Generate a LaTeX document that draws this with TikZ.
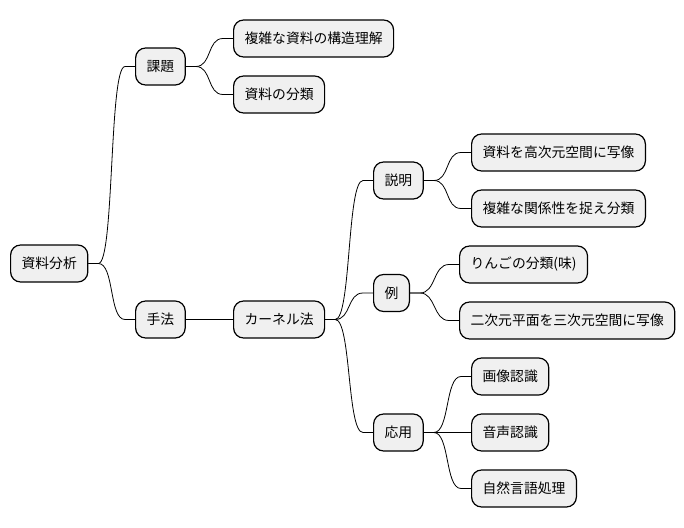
\documentclass[tikz,border=0pt]{standalone}
\usepackage{fontspec}
\setmainfont{Noto Sans CJK JP}
\usetikzlibrary{calc}
\tikzset{
	topic/.style={draw=black, line width=1.2pt, fill=black!6, rounded corners=10pt,
		minimum height=37pt, inner xsep=11pt, anchor=west,
		font=\fontsize{13.8}{16}\selectfont},
	branch/.style={line width=0.8pt}
}
\def\branchto(#1)(#2){\draw[branch] (#1.east) -- ++(10,0) .. controls +(16,0) and +(-16,0) .. ($(#2.west)+(-10,0)$) -- (#2.west);}

\begin{document}
\begin{tikzpicture}[x=1pt, y=-1pt]
			%%%%% START %%%%%
			\useasboundingbox (0,0) rectangle (684,527);
			
			\node[topic] (root) at (10, 263.5) {資料分析};
			
			\node[topic] (kadai) at (135, 66.5) {課題};
			\node[topic] (shuho) at (135, 319.5) {手法};
			
			\node[topic] (kozo) at (233, 38.5) {複雑な資料の構造理解};
			\node[topic] (bunrui) at (233, 94.5) {資料の分類};
			\node[topic] (kernel) at (233, 319.5) {カーネル法};
			
			\node[topic] (setsumei) at (373, 180.5) {説明};
			\node[topic] (rei) at (373, 293) {例};
			\node[topic] (oyo) at (373, 432.5) {応用};
			
			\node[topic] (shazo) at (471, 152.5) {資料を高次元空間に写像};
			\node[topic] (kankei) at (471, 208.5) {複雑な関係性を捉え分類};
			\node[topic] (ringo) at (459, 264.5) {りんごの分類(味)};
			\node[topic] (nijigen) at (459, 320.5) {二次元平面を三次元空間に写像};
			\node[topic] (gazo) at (471, 376.5) {画像認識};
			\node[topic] (onsei) at (471, 432.5) {音声認識};
			\node[topic] (shizen) at (471, 488.5) {自然言語処理};
			
			\branchto(root)(kadai);
			\branchto(root)(shuho);
			\branchto(kadai)(kozo);
			\branchto(kadai)(bunrui);
			\branchto(shuho)(kernel);
			\branchto(kernel)(setsumei);
			\branchto(kernel)(rei);
			\branchto(kernel)(oyo);
			\branchto(setsumei)(shazo);
			\branchto(setsumei)(kankei);
			\branchto(rei)(ringo);
			\branchto(rei)(nijigen);
			\branchto(oyo)(gazo);
			\branchto(oyo)(onsei);
			\branchto(oyo)(shizen);
			
			%%%%% END %%%%%
\end{tikzpicture}
\end{document}
